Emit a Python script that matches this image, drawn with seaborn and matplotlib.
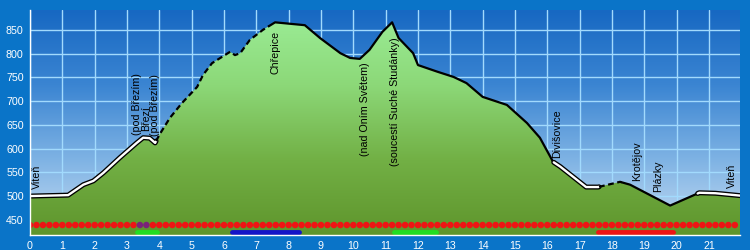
import numpy as np
import matplotlib
matplotlib.use("Agg")
import matplotlib.pyplot as plt
import matplotlib.patheffects as pe
from matplotlib.colors import LinearSegmentedColormap
import seaborn as sns

# ---------------- data ----------------
km = [0, 1.18, 1.65, 1.96, 2.27, 2.78, 3.3, 3.5, 3.7, 3.87, 4.0, 4.33, 4.7, 5.17,
      5.35, 5.63, 6.19, 6.34, 6.5, 6.8, 7.2, 7.58, 8.5, 8.97, 9.6, 9.9, 10.2, 10.5,
      10.9, 11.2, 11.4, 11.85, 12.0, 12.6, 13.1, 13.5, 14.0, 14.75, 15.37, 15.77,
      16.18, 16.4, 17.2, 17.57, 18.25, 18.56, 19.8, 20.7, 21.2, 21.96]
elev = [500, 502, 524, 532, 549, 581, 612, 623, 622, 612, 629, 665, 696, 730,
        755, 780, 804, 797, 801, 829, 850, 866, 860, 833, 801, 791, 789, 808,
        846, 866, 833, 801, 776, 762, 751, 738, 709, 692, 654, 623,
        572, 562, 519, 519, 530, 524, 480, 507, 506, 501]

# surface segments of the track
seg_start = [0, 3.9, 7.4, 16.2, 17.6, 18.3, 20.65]
seg_end = [3.9, 7.4, 16.2, 17.6, 18.3, 20.65, 21.96]
seg_kind = ["white", "dashed", "solid", "white", "dashed", "solid", "white"]

# waypoint labels
label_names = ["Viteň", "(pod Březím)", "Březí", "(pod Březím)", "Chřepice",
               "(nad Oním Světem)", "(soucestí Suché Studánky)", "Divišovice",
               "Krotějov", "Plázky", "Viteň"]
label_km = [0.23, 3.32, 3.6, 3.87, 7.58, 10.36, 11.29, 16.3, 18.77, 19.43, 21.7]
label_side = ["above", "above", "above", "above", "below", "below", "below",
              "above", "above", "above", "above"]

# marker row and coloured route bars
dot_step_km = 0.2
dot_level = 439
purple_start, purple_end = 3.3, 3.8
bar_level = 424.5
bar_start = [3.3, 6.25, 11.25, 17.57]
bar_end = [3.93, 8.32, 12.55, 19.9]
bar_kind = ["green", "blue", "green", "red"]

x_ticks = list(range(0, 22))
y_ticks = [450, 500, 550, 600, 650, 700, 750, 800, 850]
x_max = 21.96
y_min, y_max = 418, 892

# ---------------- figure ----------------
sns.set_style("white")
plt.rcParams["font.family"] = ["Liberation Sans", "DejaVu Sans"]

fig = plt.figure(figsize=(7.5, 2.5), dpi=100, facecolor="#0a74c8")
ax = fig.add_axes([30 / 750, 15 / 250, 710 / 750, 225 / 250])
ax.set_xlim(0, x_max)
ax.set_ylim(y_min, y_max)

# sky gradient
bg_cmap = LinearSegmentedColormap.from_list(
    "sky", ["#c6ddf3", "#7fb3e4", "#3b85d2", "#1768c2"])
grad = np.linspace(0, 1, 256).reshape(-1, 1)
ax.imshow(grad, extent=[0, x_max, y_min, y_max], origin="lower",
          cmap=bg_cmap, aspect="auto", zorder=0)

ax.set_axisbelow(True)
ax.grid(True, color="#a2dafd", lw=1.0)
ax.set_xticks(x_ticks)
ax.set_yticks(y_ticks)

# green terrain with gradient
km_a = np.array(km, dtype=float)
el_a = np.array(elev, dtype=float)
poly = ax.fill_between(km_a, el_a, y_min, color="none", lw=0, zorder=2)
g_cmap = LinearSegmentedColormap.from_list(
    "grass", ["#5f952c", "#72b045", "#8cd878", "#9cee98"])
im = ax.imshow(grad, extent=[0, x_max, y_min, y_max], origin="lower",
               cmap=g_cmap, aspect="auto", zorder=2)
im.set_clip_path(poly.get_paths()[0], transform=ax.transData)

# profile line segments
for s, e, kind in zip(seg_start, seg_end, seg_kind):
    inner = km_a[(km_a > s) & (km_a < e)]
    xs = np.concatenate([[s], inner, [e]])
    ys = np.interp(xs, km_a, el_a)
    if kind == "white":
        sns.lineplot(x=xs, y=ys, ax=ax, color="white", lw=1.7, sort=False,
                     estimator=None, zorder=5, solid_capstyle="round",
                     path_effects=[pe.Stroke(linewidth=3.6, foreground="black"),
                                   pe.Normal()])
    elif kind == "dashed":
        sns.lineplot(x=xs, y=ys, ax=ax, color="black", lw=1.6, sort=False,
                     estimator=None, zorder=5, linestyle=(0, (2.6, 1.6)))
    else:
        sns.lineplot(x=xs, y=ys, ax=ax, color="black", lw=1.6, sort=False,
                     estimator=None, zorder=5)

# labels
for name, k, side in zip(label_names, label_km, label_side):
    y = np.interp(k, km_a, el_a)
    if side == "above":
        ax.annotate(name, (k, y), xytext=(0, 5), textcoords="offset points",
                    rotation=90, ha="center", va="bottom", fontsize=7.7,
                    color="black", zorder=6)
    else:
        ax.annotate(name, (k, y), xytext=(0, -6), textcoords="offset points",
                    rotation=90, ha="center", va="top", fontsize=7.7,
                    color="black", zorder=6)

# row of dots
dot_x = np.arange(0, x_max + 1e-6, dot_step_km)
dot_c = ["#7a237a" if purple_start <= d <= purple_end else "#ee1414" for d in dot_x]
sns.scatterplot(x=dot_x, y=np.full(len(dot_x), dot_level), ax=ax, c=dot_c,
                s=22, linewidth=0, zorder=4, legend=False)

bar_colors = {"green": "#22dd22", "blue": "#1414c8", "red": "#ee1414"}
for s, e, kind in zip(bar_start, bar_end, bar_kind):
    ax.plot([s, e], [bar_level, bar_level], color=bar_colors[kind], lw=3.5,
            solid_capstyle="round", zorder=4)

# axes styling
for side in ["top", "right"]:
    ax.spines[side].set_visible(False)
for side in ["left", "bottom"]:
    ax.spines[side].set_color("white")
    ax.spines[side].set_linewidth(1.0)
    ax.spines[side].set_zorder(7)
ax.tick_params(colors="white", labelcolor="white", labelsize=7.7, length=3,
               width=1, direction="out", pad=1.5)
ax.set_xlabel("")
ax.set_ylabel("")

fig.savefig("out.png", dpi=100, facecolor=fig.get_facecolor())
